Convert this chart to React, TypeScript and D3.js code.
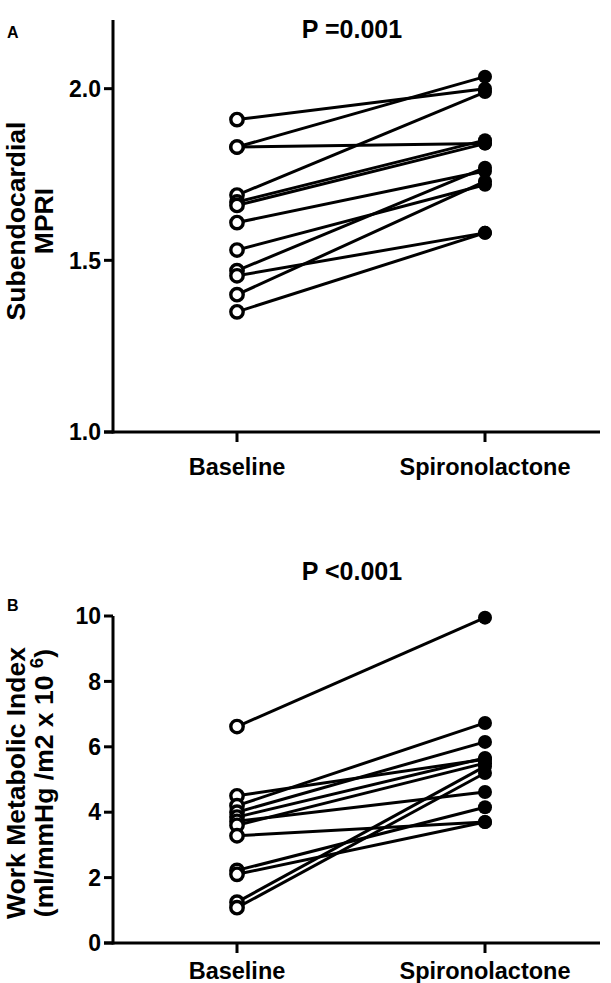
import React from "react";
import * as d3 from "d3";

const categories = ["Baseline", "Spironolactone"];

const mpriTicks = [1.0, 1.5, 2.0];
const mpriBaseline = [1.91, 1.83, 1.83, 1.69, 1.67, 1.66, 1.61, 1.53, 1.47, 1.455, 1.4, 1.35];
const mpriSpiro = [2.0, 2.035, 1.84, 1.99, 1.85, 1.84, 1.76, 1.72, 1.77, 1.58, 1.73, 1.58];

const wmiTicks = [0, 2, 4, 6, 8, 10];
const wmiBaseline = [6.62, 4.5, 4.2, 4.0, 3.85, 3.72, 3.6, 3.28, 2.22, 2.1, 1.25, 1.08];
const wmiSpiro = [9.95, 5.62, 6.73, 6.15, 5.66, 4.62, 5.5, 3.7, 4.15, 3.7, 5.4, 5.2];

const FONT = "'Liberation Sans', Arial, Helvetica, sans-serif";

type PanelProps = {
  letter: string;
  title: string;
  titleY: number;
  yTop: number;
  yBottom: number;
  labelOffset: number;
  domain: [number, number];
  ticks: number[];
  tickFmt: (v: number) => string;
  base: number[];
  after: number[];
  yLabel: React.ReactNode;
  letterY: number;
};

function Panel(p: PanelProps) {
  const x = d3.scalePoint<string>().domain(categories).range([237, 485]);
  const y = d3.scaleLinear().domain(p.domain).range([p.yBottom, p.yTop]);
  const axisX = 113;
  const axisRight = 600;
  return (
    <g>
      <text x={7} y={p.letterY} fontFamily={FONT} fontWeight="bold" fontSize={16}>
        {p.letter}
      </text>
      <text x={352} y={p.titleY} textAnchor="middle" fontFamily={FONT} fontWeight="bold" fontSize={25}>
        {p.title}
      </text>
      {/* y axis */}
      <line x1={axisX} x2={axisX} y1={p.yTop} y2={p.yBottom + 1.5} stroke="#000" strokeWidth={3} />
      {p.ticks.map((t) => (
        <g key={t}>
          <line x1={axisX - 9} x2={axisX} y1={y(t)} y2={y(t)} stroke="#000" strokeWidth={3} />
          <text
            x={axisX - 12}
            y={y(t)}
            dy="0.36em"
            textAnchor="end"
            fontFamily={FONT}
            fontWeight="bold"
            fontSize={23}
          >
            {p.tickFmt(t)}
          </text>
        </g>
      ))}
      {/* x axis */}
      <line x1={axisX - 9} x2={axisRight} y1={p.yBottom} y2={p.yBottom} stroke="#000" strokeWidth={3} />
      {categories.map((c) => (
        <g key={c}>
          <line x1={x(c)} x2={x(c)} y1={p.yBottom} y2={p.yBottom + 10} stroke="#000" strokeWidth={3} />
          <text
            x={x(c)}
            y={p.yBottom + p.labelOffset}
            textAnchor="middle"
            fontFamily={FONT}
            fontWeight="bold"
            fontSize={23.5}
          >
            {c}
          </text>
        </g>
      ))}
      {p.yLabel}
      {/* lines */}
      {p.base.map((b, i) => (
        <line
          key={"l" + i}
          x1={x(categories[0])}
          y1={y(b)}
          x2={x(categories[1])}
          y2={y(p.after[i])}
          stroke="#000"
          strokeWidth={3}
        />
      ))}
      {p.base.map((b, i) => (
        <circle key={"b" + i} cx={x(categories[0])} cy={y(b)} r={6.2} fill="#fff" stroke="#000" strokeWidth={3.4} />
      ))}
      {p.after.map((a, i) => (
        <circle key={"a" + i} cx={x(categories[1])} cy={y(a)} r={7} fill="#000" />
      ))}
    </g>
  );
}

export default function App() {
  return (
    <div style={{ position: "absolute", left: 0, top: 0, background: "#fff" }}>
      <svg width={611} height={983} style={{ display: "block" }}>
        <rect width={611} height={983} fill="#fff" />
        <Panel
          letter="A"
          letterY={38}
          title="P =0.001"
          titleY={38}
          yTop={20}
          yBottom={432}
          labelOffset={43}
          domain={[1.0, 2.2]}
          ticks={mpriTicks}
          tickFmt={(v) => d3.format(".1f")(v)}
          base={mpriBaseline}
          after={mpriSpiro}
          yLabel={
            <text
              transform="translate(0,221) rotate(-90)"
              textAnchor="middle"
              fontFamily={FONT}
              fontWeight="bold"
              fontSize={26.5}
            >
              <tspan x={0} y={24.5}>Subendocardial</tspan>
              <tspan x={0} y={53}>MPRI</tspan>
            </text>
          }
        />
        <Panel
          letter="B"
          letterY={611}
          title="P <0.001"
          titleY={580}
          yTop={616}
          yBottom={943}
          labelOffset={36}
          domain={[0, 10]}
          ticks={wmiTicks}
          tickFmt={(v) => String(v)}
          base={wmiBaseline}
          after={wmiSpiro}
          yLabel={
            <text
              transform="translate(0,783) rotate(-90)"
              textAnchor="middle"
              fontFamily={FONT}
              fontWeight="bold"
              fontSize={26.5}
            >
              <tspan x={0} y={24.5}>Work Metabolic Index</tspan>
              <tspan x={0} y={53}>
                (ml/mmHg /m2 x 10 <tspan dy={-10} fontSize={19}>6</tspan><tspan dy={10}>)</tspan>
              </tspan>
            </text>
          }
        />
      </svg>
    </div>
  );
}
